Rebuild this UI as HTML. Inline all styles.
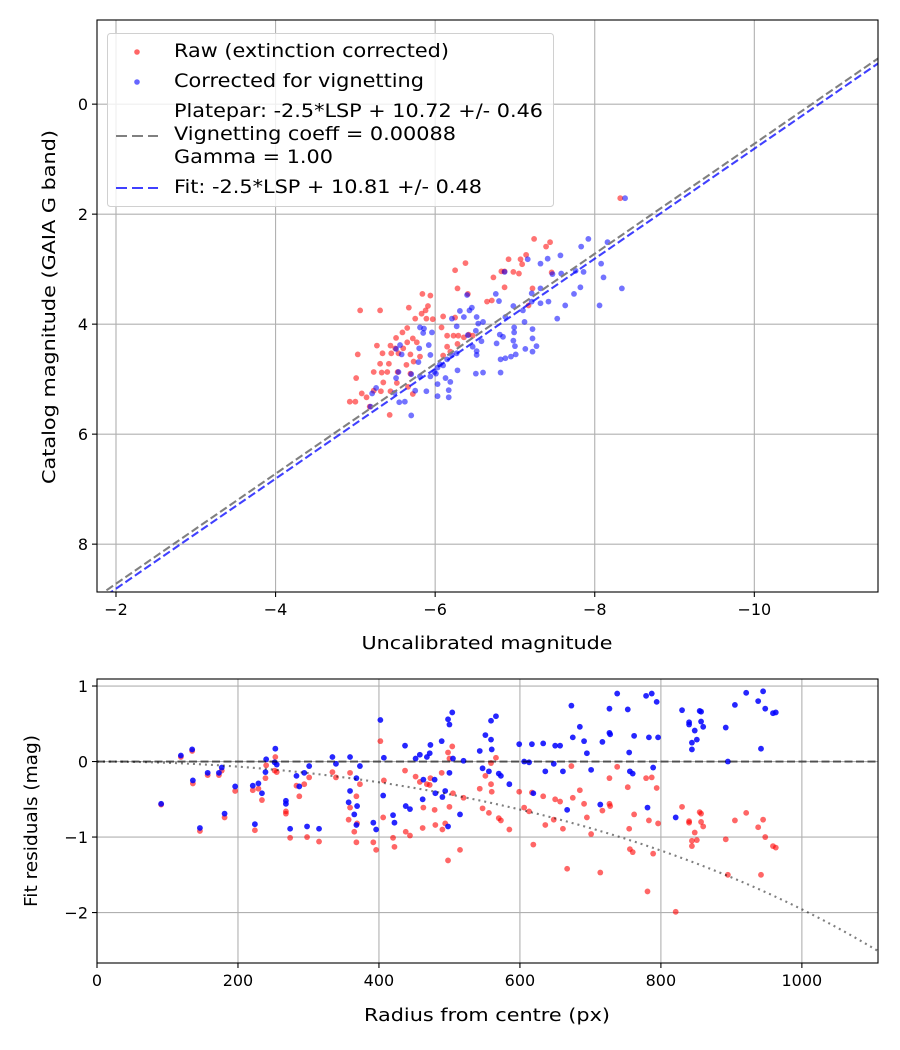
<!DOCTYPE html>
<html><head><meta charset="utf-8"><style>
html,body{margin:0;padding:0;background:#fff;}
svg{display:block;font-family:"DejaVu Sans","Liberation Sans",sans-serif;}
</style></head><body>
<svg id="fig" width="900" height="1050" xmlns="http://www.w3.org/2000/svg"></svg>
<script>
// ---- Top chart data ----
const rawX=[-7.24,-7.39,-7.44,-7.14,-7.07,-7.09,-6.92,-6.38,-6.25,-6.83,-6.87,-6.98,-7.05,-6.73,-7.46,-6.28,-6.41,-6.87,-7.22,-6.65,-6.71,-7.17,-5.06,-5.31,-5.67,-5.84,-5.94,-5.91,-5.88,-5.83,-5.75,-5.89,-5.97,-6.10,-6.25,-6.08,-6.15,-6.23,-6.29,-6.42,-5.65,-5.59,-5.51,-5.27,-5.44,-5.50,-5.72,-5.77,-5.65,-5.60,-5.54,-5.45,-5.34,-5.03,-5.69,-5.81,-5.31,-5.42,-5.23,-5.33,-5.40,-5.53,-5.64,-5.73,-5.01,-5.35,-5.52,-5.69,-5.08,-5.23,-5.32,-5.44,-5.66,-5.72,-4.93,-5.00,-5.14,-5.18,-5.43,-6.15,-6.19,-6.10,-6.28,-6.36,-6.47,-8.32];
const rawY=[2.45,2.59,2.51,2.74,2.82,2.91,2.82,2.89,3.02,3.04,3.04,3.05,3.08,3.15,3.06,3.35,3.45,3.33,3.35,3.59,3.57,3.66,3.75,3.75,3.70,3.45,3.48,3.67,3.75,3.81,3.90,3.90,3.91,3.86,3.88,4.06,4.21,4.21,4.21,4.19,4.07,4.15,4.25,4.39,4.39,4.44,4.26,4.33,4.33,4.44,4.53,4.53,4.53,4.55,4.55,4.59,4.72,4.72,4.87,4.88,4.87,4.87,4.74,4.68,4.98,5.06,5.07,4.90,5.26,5.21,5.22,5.22,5.14,5.27,5.41,5.41,5.33,5.50,5.65,4.41,4.50,4.57,4.36,4.24,4.21,1.71];
const corX=[-7.92,-7.83,-8.16,-7.57,-7.41,-7.16,-7.32,-8.08,-7.86,-7.76,-7.58,-7.47,-8.11,-6.87,-8.34,-7.82,-7.74,-7.32,-7.21,-6.76,-6.80,-6.40,-6.46,-6.31,-6.43,-6.36,-6.21,-6.27,-6.52,-6.60,-6.54,-6.98,-7.10,-7.12,-7.21,-7.32,-7.42,-7.63,-7.53,-8.06,-6.88,-6.99,-6.99,-7.22,-6.81,-6.85,-6.98,-7.00,-7.22,-7.27,-7.13,-7.22,-7.01,-6.82,-6.88,-6.95,-6.77,-6.58,-6.52,-6.52,-6.47,-6.51,-6.41,-6.27,-6.21,-6.15,-6.10,-6.03,-5.99,-6.06,-5.85,-5.96,-5.81,-5.86,-5.56,-5.51,-5.58,-5.80,-5.92,-5.94,-5.79,-5.54,-5.51,-5.70,-5.81,-5.94,-6.01,-6.03,-6.13,-6.19,-6.28,-6.51,-6.60,-6.82,-5.26,-5.21,-5.49,-5.55,-5.62,-5.75,-5.89,-6.03,-6.17,-6.17,-5.70,-5.19,-8.38];
const corY=[2.45,2.59,2.51,2.75,2.81,2.82,2.90,2.90,3.05,3.03,3.08,3.09,3.15,3.05,3.35,3.33,3.45,3.35,3.44,3.45,3.58,3.47,3.70,3.76,3.75,3.87,3.90,4.04,3.87,3.96,3.99,3.67,3.75,3.96,3.59,3.62,3.59,3.66,3.90,3.66,3.87,4.06,4.15,4.09,4.19,4.23,4.30,4.40,4.26,4.40,4.45,4.50,4.55,4.64,4.62,4.59,4.35,4.31,4.49,4.56,4.41,4.12,4.20,4.53,4.56,4.64,4.75,4.79,4.87,4.73,4.16,4.15,4.06,4.08,4.38,4.45,4.55,4.44,4.38,4.56,4.69,4.87,4.98,4.91,4.95,4.95,4.90,5.09,4.98,5.05,4.84,4.90,4.88,4.88,5.16,5.26,5.25,5.42,5.41,5.21,5.22,5.31,5.20,5.33,5.66,5.50,1.71];
const plateparZP=10.72, fitZP=10.81, vigCoeff=0.00088;
const topXTicks=[-2,-4,-6,-8,-10], topYTicks=[0,2,4,6,8];
// ---- Bottom chart data ----
const radius=[91,119,135,136,146,157,173,177,181,196,221,229,234,224,239,240,253,252,255,268,268,274,283,287,294,301,298,315,334,339,359,373,368,359,357,365,369,368,402,407,406,392,396,420,422,437,452,458,468,472,473,463,479,438,444,462,480,490,494,498,489,498,500,504,505,500,515,520,547,543,551,559,566,559,560,556,570,573,585,599,606,613,617,619,633,636,648,650,657,661,667,673,675,685,691,695,701,714,717,727,727,728,738,753,755,756,760,762,779,787,781,783,789,794,796,821,830,840,840,844,844,848,851,855,857,857,860,892,895,905,921,938,945,942,948,959,963];
const resCor=[-0.56,0.08,0.16,-0.25,-0.88,-0.15,-0.15,-0.08,-0.69,-0.33,-0.32,-0.29,-0.42,-0.83,-0.14,0.03,0.17,-0.01,-0.04,-0.52,-0.56,-0.89,-0.19,-0.33,-0.15,-0.06,-0.86,-0.89,0.06,-0.03,0.06,-0.06,-0.22,-0.39,-0.54,-0.70,-0.59,-0.84,0.55,0.05,-0.45,-0.81,-0.90,-0.71,-0.81,0.21,0.04,0.09,0.06,0.11,0.22,-0.24,-0.24,-0.59,-0.63,-0.50,-0.42,-0.47,-0.39,-0.86,0.27,0.56,0.49,0.65,0.04,-0.15,-0.70,0.01,-0.09,0.14,0.35,0.54,0.60,0.29,0.16,-0.13,-0.16,-0.19,-0.30,0.23,0.00,-0.01,0.23,-0.42,0.24,-0.13,-0.03,0.21,0.21,-0.13,-0.64,0.74,0.32,0.46,0.27,0.11,-0.11,-0.57,0.26,0.70,0.38,0.36,0.90,0.69,0.12,-0.13,-0.16,0.34,0.87,0.90,-0.61,0.32,-0.08,0.79,0.32,-0.74,0.68,0.52,0.49,0.25,0.16,0.41,0.29,0.67,0.66,0.53,0.46,0.45,0.00,0.75,0.91,0.80,0.93,0.17,0.70,0.64,0.65];
const resRaw=[-0.57,0.06,0.14,-0.29,-0.92,-0.18,-0.18,-0.12,-0.74,-0.39,-0.38,-0.36,-0.51,-0.91,-0.22,-0.05,0.06,-0.12,-0.14,-0.66,-0.69,-1.01,-0.32,-0.46,-0.30,-0.21,-1.00,-1.06,-0.14,-0.21,-0.15,-0.30,-0.46,-0.61,-0.77,-0.93,-0.82,-1.07,0.27,-0.25,-0.74,-1.07,-1.17,-1.01,-1.13,-0.12,-0.20,-0.27,-0.30,-0.31,-0.22,-0.61,-0.64,-0.93,-0.98,-0.88,-0.84,-0.90,-0.82,-1.31,-0.15,0.12,0.04,0.20,-0.42,-0.60,-1.17,-0.48,-0.62,-0.36,-0.19,-0.02,0.05,-0.30,-0.40,-0.68,-0.75,-0.78,-0.90,-0.40,-0.61,-0.66,-0.41,-1.10,-0.46,-0.84,-0.77,-0.50,-0.53,-0.89,-1.42,-0.06,-0.48,-0.38,-0.56,-0.74,-0.96,-1.47,-0.65,-0.22,-0.56,-0.59,-0.07,-0.34,-0.89,-1.16,-1.20,-0.70,-0.22,-0.21,-1.72,-0.78,-1.22,-0.35,-0.82,-1.99,-0.60,-0.79,-0.81,-1.05,-1.12,-0.94,-1.04,-0.67,-0.69,-0.80,-0.86,-1.03,-1.50,-0.78,-0.68,-0.87,-0.77,-1.50,-1.00,-1.12,-1.14];
const botXTicks=[0,200,400,600,800,1000], botYTicks=[1,0,-1,-2];

const NS='http://www.w3.org/2000/svg';
const svg=document.getElementById('fig');
function mk(tag,attrs,parent){const e=document.createElementNS(NS,tag);for(const k in attrs)e.setAttribute(k,attrs[k]);(parent||svg).appendChild(e);return e;}

const T={l:97,r:878,t:20,b:592,x0:-1.762,x1:-11.55,y0:-1.53,y1:8.87};
const B={l:97,r:878,t:679,b:963,x0:0,x1:1108,y0:1.093,y1:-2.668};
function sx(A,v){return A.l+(v-A.x0)/(A.x1-A.x0)*(A.r-A.l);}
function sy(A,v){return A.t+(v-A.y0)/(A.y1-A.y0)*(A.b-A.t);}

function grid(A,xt,yt,gname){
  const g=mk('g',{});
  
  
  xt.forEach(v=>{const x=sx(A,v);mk('line',{x1:x,x2:x,y1:A.t,y2:A.b,stroke:'#b0b0b0','stroke-width':1.1},g);});
  yt.forEach(v=>{const y=sy(A,v);mk('line',{x1:A.l,x2:A.r,y1:y,y2:y,stroke:'#b0b0b0','stroke-width':1.1},g);});
}
function frame(A,xt,yt,gname){
  const g=mk('g',{});
  
  
  mk('rect',{x:A.l,y:A.t,width:A.r-A.l,height:A.b-A.t,fill:'none',stroke:'#000','stroke-width':1.1},g);
  xt.forEach(v=>{const x=sx(A,v);mk('line',{x1:x,x2:x,y1:A.b,y2:A.b+5,stroke:'#000','stroke-width':1.1},g);
    const t=mk('text',{x:x,y:A.b+23,'text-anchor':'middle','font-size':16,fill:'#000'},g);t.textContent=String(v).replace('-','\u2212');
    
    });
  yt.forEach(v=>{const y=sy(A,v);mk('line',{x1:A.l-5,x2:A.l,y1:y,y2:y,stroke:'#000','stroke-width':1.1},g);
    const t=mk('text',{x:A.l-9,y:y+6,'text-anchor':'end','font-size':16,fill:'#000'},g);t.textContent=String(v).replace('-','\u2212');
    
    });
}
function clip(A,id){const d=mk('defs',{});const c=mk('clipPath',{id:id},d);mk('rect',{x:A.l,y:A.t,width:A.r-A.l,height:A.b-A.t},c);}
function scatter(A,xs,ys,color,op,clipId,name){
  const g=mk('g',{'clip-path':'url(#'+clipId+')'});
  
  
  xs.forEach((v,i)=>{const c=mk('circle',{cx:sx(A,v),cy:sy(A,ys[i]),r:2.9,fill:color,'fill-opacity':op},g);
    
    });
}

clip(T,'ct');clip(B,'cb');
grid(T,topXTicks,topYTicks,'top');
scatter(T,rawX,rawY,'#ff0000',0.55,'ct','raw-points');
scatter(T,corX,corY,'#0000ff',0.55,'ct','corrected-points');
function fitLine(zp,color,name){
  const l=mk('line',{x1:sx(T,T.x0),y1:sy(T,T.x0+zp),x2:sx(T,T.x1),y2:sy(T,T.x1+zp),stroke:color,'stroke-width':2.1,'stroke-dasharray':'8,3.5','clip-path':'url(#ct)'});
  
  
}
fitLine(plateparZP,'#808080','platepar-line');
fitLine(fitZP,'rgba(0,0,255,0.75)','fit-line');
frame(T,topXTicks,topYTicks,'top');

const lg=mk('g',{});


mk('rect',{x:107.5,y:33.5,width:446,height:173,rx:3,fill:'rgba(255,255,255,0.8)',stroke:'#d0d0d0','stroke-width':1},lg);
mk('circle',{cx:137,cy:52,r:2.8,fill:'#ff0000','fill-opacity':0.6},lg);
mk('circle',{cx:137,cy:82,r:2.8,fill:'#0000ff','fill-opacity':0.6},lg);
mk('line',{x1:116,x2:158,y1:136,y2:136,stroke:'#808080','stroke-width':2.1,'stroke-dasharray':'11,5'},lg);
mk('line',{x1:116,x2:158,y1:188,y2:188,stroke:'rgba(0,0,255,0.75)','stroke-width':2.1,'stroke-dasharray':'11,5'},lg);
[['Raw (extinction corrected)',57,275],['Corrected for vignetting',87,250],['Platepar: -2.5*LSP + 10.72 +/- 0.46',117,369],['Vignetting coeff = 0.00088',140,282],['Gamma = 1.00',163,159],['Fit: -2.5*LSP + 10.81 +/- 0.48',193,308]].forEach(([s,y,w])=>{
  const t=mk('text',{x:174,y:y,'font-size':19,fill:'#000',textLength:w,lengthAdjust:'spacingAndGlyphs'},lg);t.textContent=s;
  
  
});

function label(s,x,y,rot,w,name){const t=mk('text',{x:x,y:y,'text-anchor':'middle','font-size':18,fill:'#000',textLength:w,lengthAdjust:'spacingAndGlyphs',transform:rot?'rotate(-90 '+x+' '+y+')':''});t.textContent=s;
  
  }
label('Uncalibrated magnitude',487,649,false,251,'top-x-axis-title');
label('Catalog magnitude (GAIA G band)',55,307,true,354,'top-y-axis-title');

grid(B,botXTicks,botYTicks,'bottom');
scatter(B,radius,resRaw,'#ff0000',0.6,'cb','raw-residuals');
scatter(B,radius,resCor,'#0000ff',0.85,'cb','corrected-residuals');
const zl=mk('line',{x1:B.l,x2:B.r,y1:sy(B,0),y2:sy(B,0),stroke:'rgba(0,0,0,0.55)','stroke-width':2.1,'stroke-dasharray':'8,3.5'});


let pts=[];for(let r=0;r<=1108;r+=4){const c=Math.cos(vigCoeff*r);pts.push(sx(B,r)+','+sy(B,2.5*Math.log10(Math.pow(c,4))));}
const vc=mk('polyline',{points:pts.join(' '),fill:'none',stroke:'rgba(0,0,0,0.5)','stroke-width':2.1,'stroke-dasharray':'2,4','clip-path':'url(#cb)'});


frame(B,botXTicks,botYTicks,'bottom');
label('Radius from centre (px)',487,1021,false,246,'bottom-x-axis-title');
label('Fit residuals (mag)',37,821,true,172,'bottom-y-axis-title');
</script>
</body></html>
